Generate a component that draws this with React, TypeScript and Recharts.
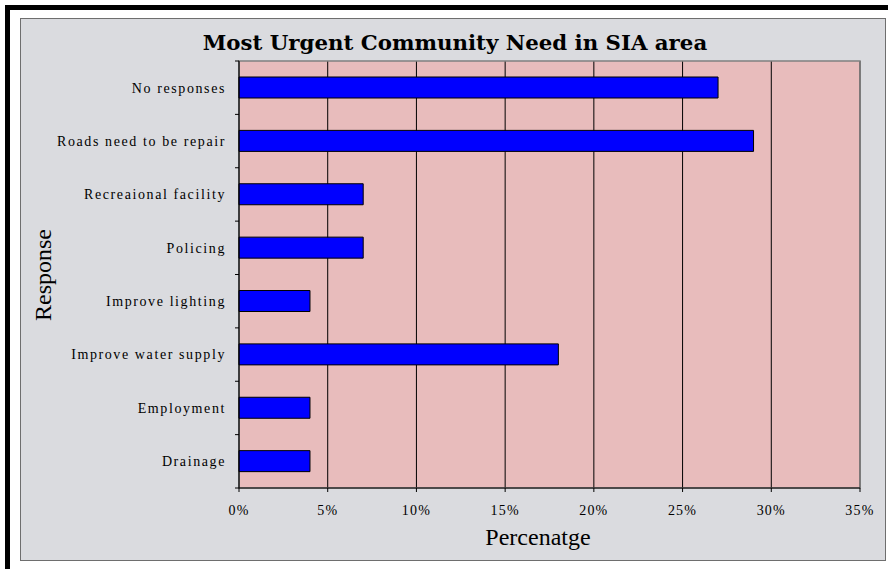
import React from 'react';
import { BarChart, Bar, XAxis, YAxis, CartesianGrid, ReferenceArea } from 'recharts';

const categories = [
  'No responses',
  'Roads need to be repair',
  'Recreaional facility',
  'Policing',
  'Improve lighting',
  'Improve water supply',
  'Employment',
  'Drainage',
];
const percentages = [27, 29, 7, 7, 4, 18, 4, 4];
const xTicks = [0, 5, 10, 15, 20, 25, 30, 35];

const data = categories.map((name, i) => ({ name, value: percentages[i] }));

const W = 888;
const H = 569;
const PLOT_TOP = 61;
const PLOT_BOTTOM = 488;
const PLOT_LEFT = 239;
const PLOT_RIGHT = 860;
const BAND = (PLOT_BOTTOM - PLOT_TOP) / categories.length;
const SERIF = '"Liberation Serif", "Times New Roman", serif';

const CategoryTick = (props: any) => {
  const { y, payload, index } = props;
  const top = y - BAND / 2;
  return (
    <g>
      <line x1={PLOT_LEFT - 4} x2={PLOT_LEFT} y1={top} y2={top} stroke="#000" />
      {index === categories.length - 1 && (
        <line x1={PLOT_LEFT - 4} x2={PLOT_LEFT} y1={top + BAND} y2={top + BAND} stroke="#000" />
      )}
      <text
        x={PLOT_LEFT - 13}
        y={y}
        dy="0.35em"
        textAnchor="end"
        fontFamily={SERIF}
        fontSize={14}
        letterSpacing={1.6}
        fill="#000"
      >
        {payload.value}
      </text>
    </g>
  );
};

const PercentTick = (props: any) => {
  const { x, payload } = props;
  return (
    <text
      x={x}
      y={510}
      dy="0.35em"
      textAnchor="middle"
      fontFamily={SERIF}
      fontSize={14}
      letterSpacing={1.2}
      fill="#000"
    >
      {payload.value}%
    </text>
  );
};

export default function App() {
  return (
    <div style={{ position: 'absolute', left: 0, top: 0, width: W, height: H, background: '#fff', overflow: 'hidden' }}>
      {/* outer black frame, only left and top are inside the picture */}
      <div style={{ position: 'absolute', left: 5, top: 5, width: W + 20, height: H + 20, border: '5px solid #000', boxSizing: 'border-box' }} />
      {/* chart area */}
      <div style={{ position: 'absolute', left: 20, top: 18, width: 866, height: 543, background: '#dadbdf', border: '1px solid #6e6e6e', boxSizing: 'border-box' }} />

      <div style={{ position: 'absolute', left: 0, top: 0 }}>
        <BarChart
          width={W}
          height={H}
          data={data}
          layout="vertical"
          margin={{ top: PLOT_TOP, right: W - PLOT_RIGHT, bottom: H - PLOT_BOTTOM - 30, left: 0 }}
          barSize={21}
        >
          <CartesianGrid horizontal={false} stroke="#000" fill="#e8bcbc" fillOpacity={1} />
          <ReferenceArea x1={0} x2={35} fill="none" stroke="#808080" strokeWidth={1.5} />
          <XAxis
            type="number"
            domain={[0, 35]}
            ticks={xTicks}
            height={30}
            tick={<PercentTick />}
            tickSize={4}
            axisLine={{ stroke: '#000' }}
            tickLine={{ stroke: '#000' }}
          />
          <YAxis
            type="category"
            dataKey="name"
            width={PLOT_LEFT}
            tick={<CategoryTick />}
            tickLine={false}
            axisLine={{ stroke: '#000' }}
            interval={0}
          />
          <Bar dataKey="value" fill="#0000ff" stroke="#000" strokeWidth={1} isAnimationActive={false} />
        </BarChart>
      </div>

      <div
        style={{
          position: 'absolute',
          left: 0,
          width: 910,
          top: 30,
          textAlign: 'center',
          fontFamily: '"DejaVu Serif", serif',
          fontWeight: 'bold',
          fontSize: 21.3,
          lineHeight: '26px',
          color: '#000',
        }}
      >
        Most Urgent Community Need in SIA area
      </div>
      <div
        style={{
          position: 'absolute',
          left: 438,
          width: 200,
          top: 523,
          textAlign: 'center',
          fontFamily: SERIF,
          fontSize: 24,
          lineHeight: '28px',
          color: '#000',
        }}
      >
        Percenatge
      </div>
      <div
        style={{
          position: 'absolute',
          left: 43,
          top: 275,
          transform: 'translate(-50%, -50%) rotate(-90deg)',
          fontFamily: SERIF,
          fontSize: 24,
          lineHeight: '28px',
          color: '#000',
          whiteSpace: 'nowrap',
        }}
      >
        Response
      </div>
    </div>
  );
}
